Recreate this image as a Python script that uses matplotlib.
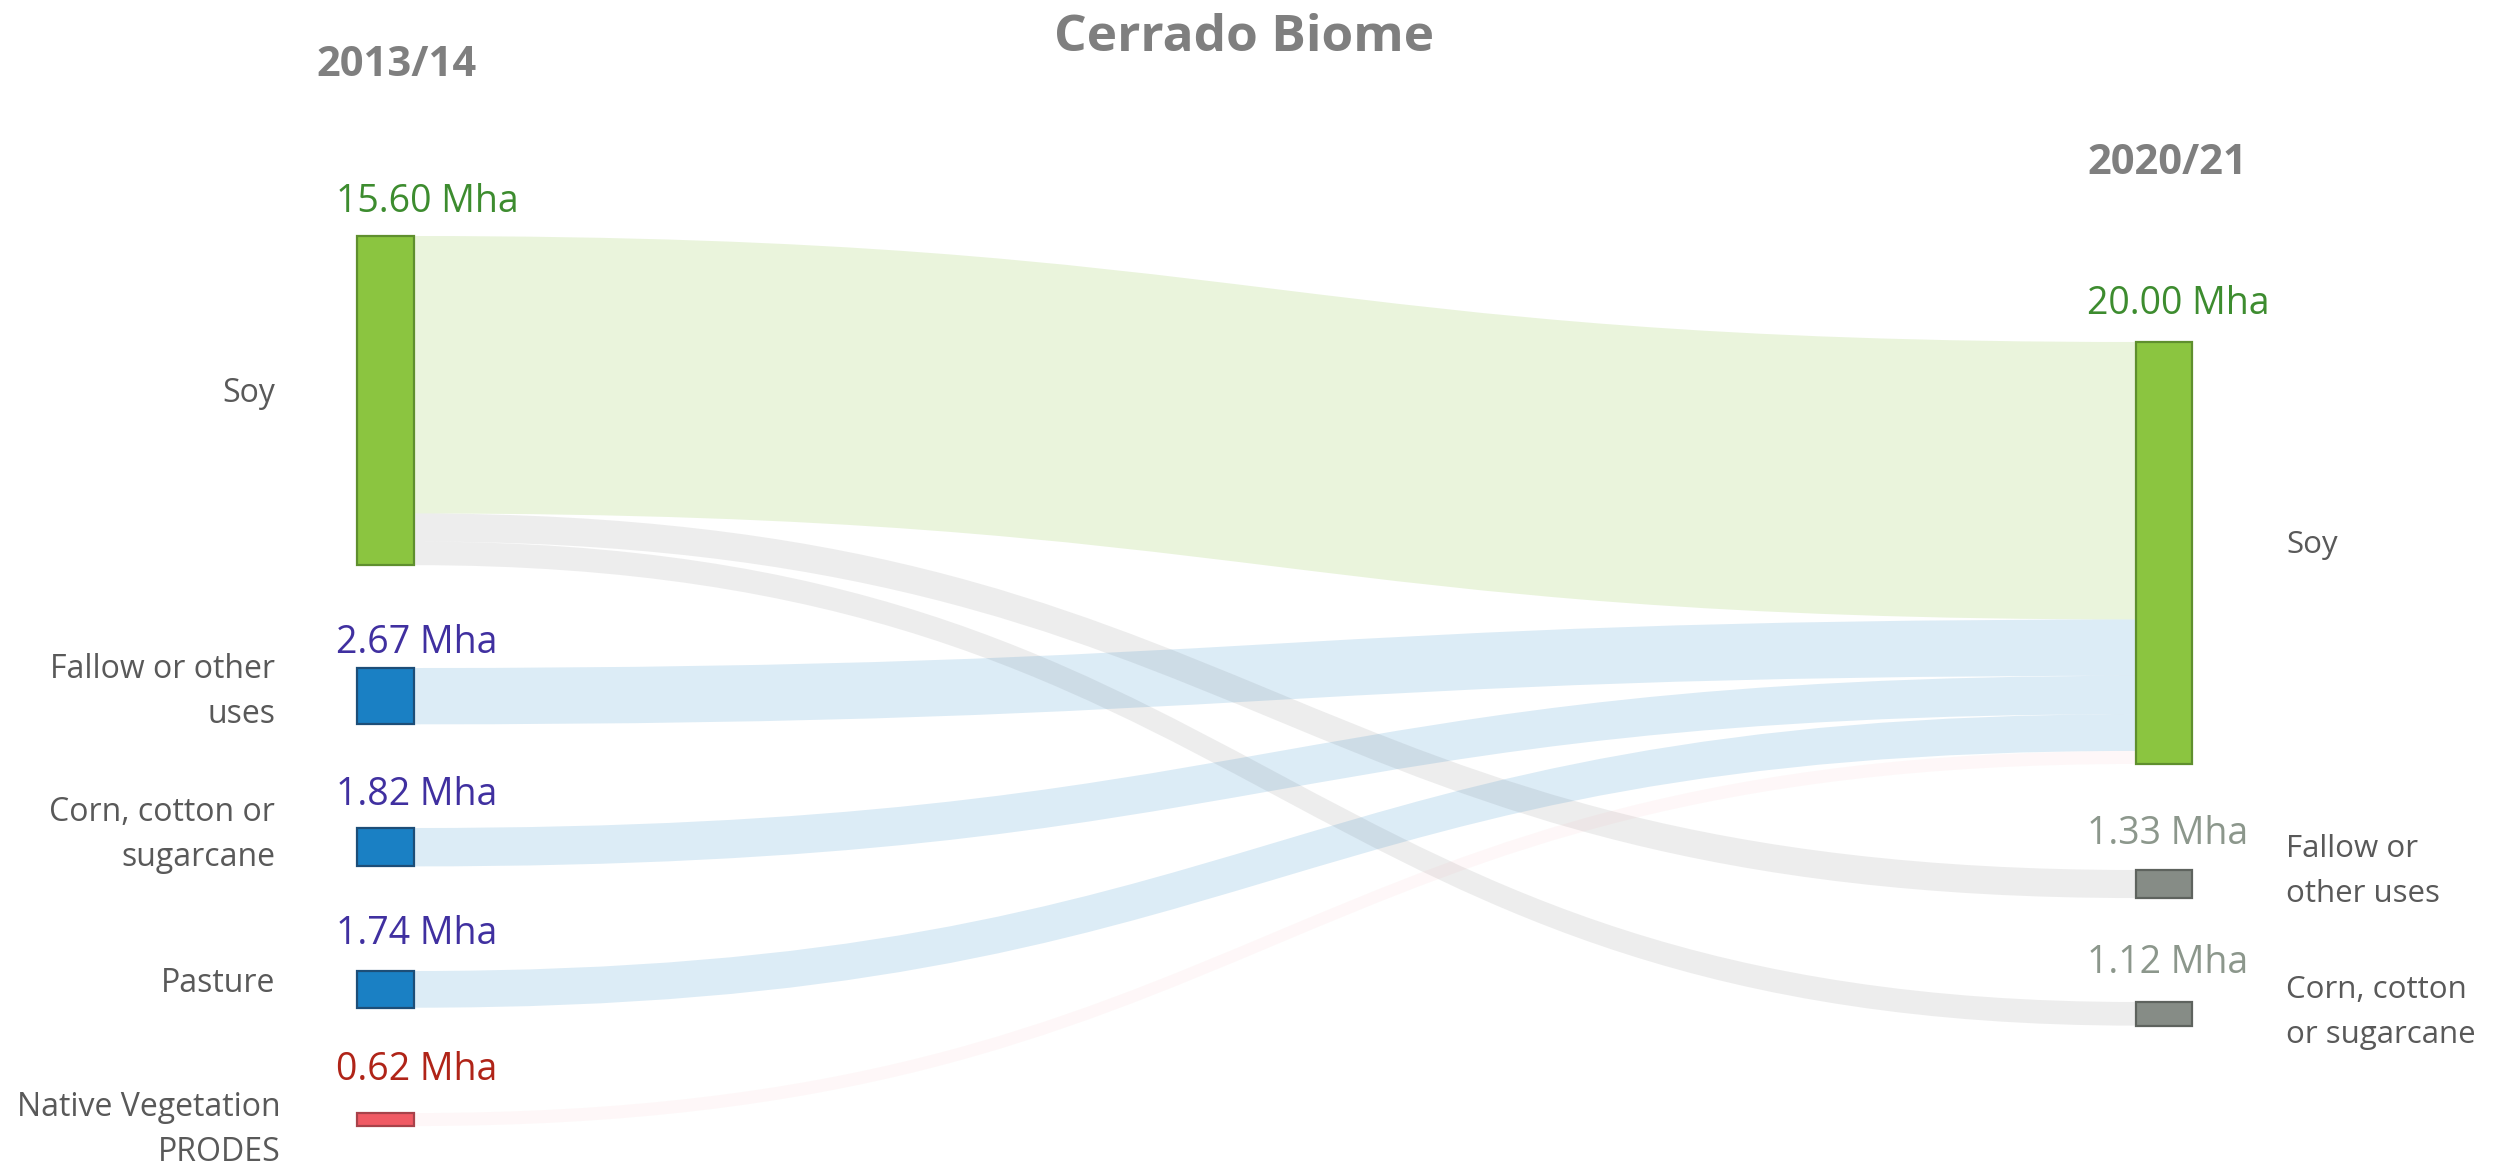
import matplotlib
matplotlib.use("Agg")
import matplotlib.pyplot as plt
from matplotlib.path import Path
from matplotlib.patches import PathPatch, Rectangle
from matplotlib.colors import to_rgba

plt.rcParams['font.family'] = ['Open Sans', 'DejaVu Sans']

# ---- data ----
title = "Cerrado Biome"
left_year = "2013/14"
right_year = "2020/21"

left_nodes = ["Soy", "Fallow or other\nuses", "Corn, cotton or\nsugarcane", "Pasture", "Native Vegetation\nPRODES"]
left_values = [15.60, 2.67, 1.82, 1.74, 0.62]

right_nodes = ["Soy", "Fallow or\nother uses", "Corn, cotton\nor sugarcane"]
right_values = [20.00, 1.33, 1.12]

flow_src = [0, 0, 0, 1, 2, 3, 4]
flow_dst = [0, 1, 2, 0, 0, 0, 0]
flow_values = [13.15, 1.33, 1.12, 2.67, 1.82, 1.74, 0.62]

# ---- styling / layout ----
left_fill = ["#8BC540", "#1A80C4", "#1A80C4", "#1A80C4", "#F05A64"]
left_edge = ["#5F8F2E", "#1D4E78", "#1D4E78", "#1D4E78", "#A8424A"]
left_txt = ["#3D8C2F", "#4030A0", "#4030A0", "#4030A0", "#B02418"]
right_fill = ["#8BC540", "#868C86", "#868C86"]
right_edge = ["#5F8F2E", "#5E635E", "#5E635E"]
right_txt = ["#3D8C2F", "#8C978C", "#8C978C"]
flow_col = [("#8BC540", 0.18), ("#9E9E9E", 0.18), ("#9E9E9E", 0.18),
            ("#1A80C4", 0.15), ("#1A80C4", 0.15), ("#1A80C4", 0.15),
            ("#F05A64", 0.045)]

px_per_mha = 21.1
lx0, lx1 = 357, 414          # left column
rx0, rx1 = 2136, 2192        # right column
left_tops = [236, 668, 828, 971, 1113]
right_tops = [342, 870, 1002]
left_val_base = [212, 653, 805, 944, 1080]
right_val_base = [314, 844, 973]
left_lab_base = [402, 678, 821, 992, 1116]
left_lab_x = [275, 275, 275, 275, 281]
right_lab_base = [553, 857, 998]
line_gap = 45

label_grey = "#595959"
head_grey = "#7F7F7F"

fig = plt.figure(figsize=(24.96, 11.68), dpi=100)
ax = fig.add_axes([0, 0, 1, 1])
ax.set_xlim(0, 2496)
ax.set_ylim(1168, 0)
ax.axis('off')

# flows
l_off = [0.0] * len(left_values)
r_off = [0.0] * len(right_values)
for i in range(len(flow_values)):
    s, d, v = flow_src[i], flow_dst[i], flow_values[i]
    h = v * px_per_mha
    y0 = left_tops[s] + l_off[s]
    y1 = right_tops[d] + r_off[d]
    l_off[s] += h
    r_off[d] += h
    xm = (lx1 + rx0) / 2
    verts = [(lx1, y0), (xm, y0), (xm, y1), (rx0, y1),
             (rx0, y1 + h), (xm, y1 + h), (xm, y0 + h), (lx1, y0 + h),
             (lx1, y0)]
    codes = [Path.MOVETO, Path.CURVE4, Path.CURVE4, Path.CURVE4,
             Path.LINETO, Path.CURVE4, Path.CURVE4, Path.CURVE4,
             Path.CLOSEPOLY]
    c, a = flow_col[i]
    ax.add_patch(PathPatch(Path(verts, codes), facecolor=to_rgba(c, a),
                           edgecolor='none', zorder=1))

# nodes
for i, v in enumerate(left_values):
    ax.add_patch(Rectangle((lx0, left_tops[i]), lx1 - lx0, v * px_per_mha,
                           facecolor=left_fill[i], edgecolor=left_edge[i],
                           linewidth=1.6, zorder=3))
    ax.text(336, left_val_base[i], f"{v:.2f} Mha", color=left_txt[i],
            fontsize=27, ha='left', va='baseline')
    for k, line in enumerate(left_nodes[i].split("\n")):
        ax.text(left_lab_x[i], left_lab_base[i] + k * line_gap, line,
                color=label_grey, fontsize=23, ha='right', va='baseline')

for i, v in enumerate(right_values):
    ax.add_patch(Rectangle((rx0, right_tops[i]), rx1 - rx0, v * px_per_mha,
                           facecolor=right_fill[i], edgecolor=right_edge[i],
                           linewidth=1.6, zorder=3))
    ax.text(2087, right_val_base[i], f"{v:.2f} Mha", color=right_txt[i],
            fontsize=27, ha='left', va='baseline')
    for k, line in enumerate(right_nodes[i].split("\n")):
        ax.text(2286, right_lab_base[i] + k * line_gap, line,
                color=label_grey, fontsize=22.5, ha='left', va='baseline')

# headers
ax.text(1244, 51, title, color=head_grey, fontsize=37, fontweight='bold',
        ha='center', va='baseline')
ax.text(397, 76, left_year, color=head_grey, fontsize=30, fontweight='bold',
        ha='center', va='baseline')
ax.text(2167, 174, right_year, color=head_grey, fontsize=30, fontweight='bold',
        ha='center', va='baseline')

fig.savefig("out.png", dpi=100, facecolor="white")
